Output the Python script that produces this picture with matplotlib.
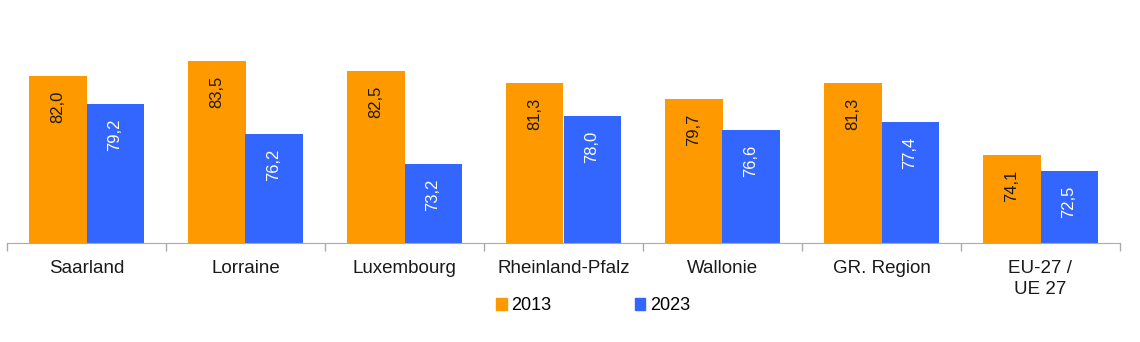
import matplotlib.pyplot as plt
import numpy as np
from matplotlib.patches import Patch

plt.rcParams['font.family'] = ['Liberation Sans', 'DejaVu Sans']

# Werte pro Region
regions = ["Saarland", "Lorraine", "Luxembourg", "Rheinland-Pfalz",
           "Wallonie", "GR. Region", "EU-27 /\nUE 27"]
vals_2013 = [82.0, 83.5, 82.5, 81.3, 79.7, 81.3, 74.1]
vals_2023 = [79.2, 76.2, 73.2, 78.0, 76.6, 77.4, 72.5]
years = ["2013", "2023"]

c_2013 = '#FF9900'
c_2023 = '#3366FF'

fig = plt.figure(figsize=(11.4, 3.42), dpi=100)
ax = fig.add_axes([7 / 1140, 1 - 243 / 342, 1113 / 1140, 243 / 342])

x = np.arange(len(regions))
w = 0.36
ax.bar(x - w / 2, vals_2013, w, color=c_2013)
ax.bar(x + w / 2, vals_2023, w, color=c_2023)

def fmt(v):
    return f"{v:.1f}".replace('.', ',')

for xi, v in zip(x, vals_2013):
    ax.annotate(fmt(v), (xi - w / 2, v), xytext=(0, -10.5), textcoords='offset points',
                rotation=90, ha='center', va='top', fontsize=12, color='#1a1a1a')
for xi, v in zip(x, vals_2023):
    ax.annotate(fmt(v), (xi + w / 2, v), xytext=(0, -10.5), textcoords='offset points',
                rotation=90, ha='center', va='top', fontsize=12, color='white')

ax.set_ylim(65.3, 89.6)
ax.set_xlim(-0.5, len(regions) - 0.5)

for s in ['top', 'right', 'left']:
    ax.spines[s].set_visible(False)
ax.spines['bottom'].set_color('#aaaaaa')
ax.set_yticks([])

# Trennstriche zwischen den Kategorien
ax.set_xticks(x)
ax.set_xticklabels(regions, fontsize=13.5, color='#1a1a1a', linespacing=1.3)
ax.tick_params(axis='x', which='major', length=0, pad=12)
ax.set_xticks(np.arange(-0.5, len(regions), 1), minor=True)
ax.tick_params(axis='x', which='minor', length=6, color='#aaaaaa', width=1)

handles = [Patch(color=c_2013, label=years[0]), Patch(color=c_2023, label=years[1])]
fig.legend(handles=handles, loc='center', bbox_to_anchor=(593 / 1140, 1 - 306 / 342),
           ncol=2, frameon=False, fontsize=13, handlelength=0.6, handleheight=0.6,
           handletextpad=0.25, columnspacing=4.6)

fig.savefig('out.png', dpi=100)
